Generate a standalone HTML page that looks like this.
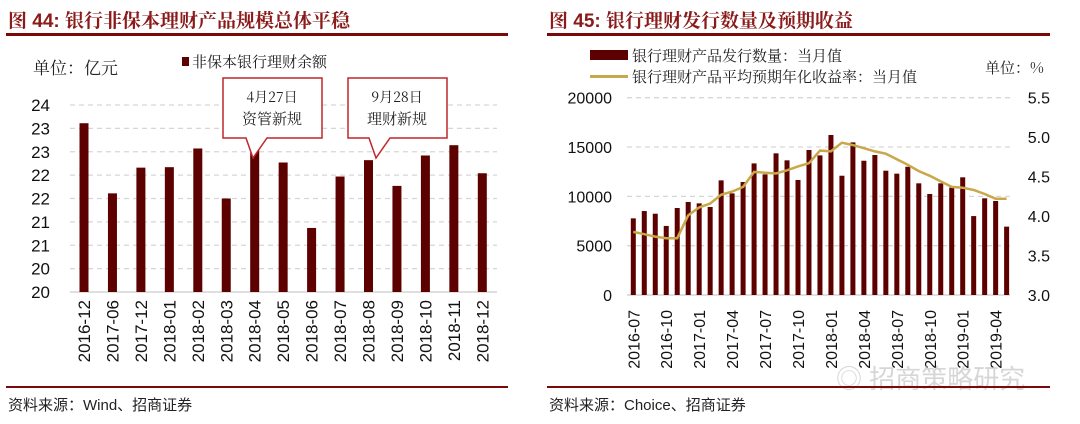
<!DOCTYPE html>
<html><head><meta charset="utf-8">
<style>
body{margin:0;background:#fff;width:1080px;height:424px;overflow:hidden;font-family:"Liberation Sans","Noto Sans CJK SC",sans-serif;}
svg{display:block}
</style></head>
<body>
<svg width="1080" height="424" xmlns="http://www.w3.org/2000/svg">
<g>
<text x="8" y="27" font-size="19" fill="#8b1a1a" font-weight="bold" font-family="Liberation Sans,Noto Serif CJK SC,serif">图 <tspan font-family="Liberation Sans,sans-serif">44:</tspan> 银行非保本理财产品规模总体平稳</text>
<rect x="6" y="33" width="502" height="3" fill="#7a0a0a"/>
<text x="33" y="74" font-size="17" fill="#222" font-family="Noto Serif CJK SC,serif">单位：亿元</text>
<rect x="182" y="57" width="7" height="9" fill="#5c0000"/>
<text x="192" y="67" font-size="15" fill="#222" font-family="Noto Serif CJK SC,serif">非保本银行理财余额</text>
<g id="lg"></g>
<rect x="6" y="386" width="502" height="2" fill="#7a0a0a"/>
<text x="8" y="410" font-size="15" fill="#222">资料来源：Wind、招商证券</text>
</g>
<g>
<text x="549" y="27" font-size="19" fill="#8b1a1a" font-weight="bold" font-family="Liberation Sans,Noto Serif CJK SC,serif">图 <tspan font-family="Liberation Sans,sans-serif">45:</tspan> 银行理财发行数量及预期收益</text>
<rect x="547" y="33" width="503" height="3" fill="#7a0a0a"/>
<rect x="590" y="50" width="38" height="10" fill="#5c0000"/>
<text x="632" y="61" font-size="15" fill="#222" font-family="Noto Serif CJK SC,serif">银行理财产品发行数量：当月值</text>
<rect x="590" y="75" width="38" height="3" fill="#c9a84a"/>
<text x="632" y="82" font-size="15" fill="#222" font-family="Noto Serif CJK SC,serif">银行理财产品平均预期年化收益率：当月值</text>
<text x="985" y="73" font-size="15" fill="#222" font-family="Noto Serif CJK SC,serif">单位：%</text>
<g id="rg"></g>
<text x="836" y="388" font-size="26" fill="#bbb" opacity="0.6">◎ 招商策略研究</text>
<rect x="547" y="386" width="503" height="2" fill="#7a0a0a"/>
<text x="549" y="410" font-size="15" fill="#222">资料来源：Choice、招商证券</text>
</g>
</svg>
<script>
const leftCats=["2016-12","2017-06","2017-12","2018-01","2018-02","2018-03","2018-04","2018-05","2018-06","2018-07","2018-08","2018-09","2018-10","2018-11","2018-12"];
const leftVals=[23.61,22.11,22.66,22.67,23.07,22.0,23.3,22.77,21.37,22.47,22.82,22.27,22.92,23.14,22.54];
const leftTicks=[20,20.5,21,21.5,22,22.5,23,23.5,24];
const leftTickLabels=["20","20","21","21","22","22","23","23","24"];
const rightCats=["2016-07","2016-08","2016-09","2016-10","2016-11","2016-12","2017-01","2017-02","2017-03","2017-04","2017-05","2017-06","2017-07","2017-08","2017-09","2017-10","2017-11","2017-12","2018-01","2018-02","2018-03","2018-04","2018-05","2018-06","2018-07","2018-08","2018-09","2018-10","2018-11","2018-12","2019-01","2019-02","2019-03","2019-04","2019-05"];
const rightCounts=[7770,8510,8240,7000,8820,9430,9290,8920,11620,10300,11450,13340,12230,14360,13650,11660,14700,14150,16220,12090,15470,13610,14190,12600,12300,13000,11320,10240,11320,10880,11930,8000,9800,9530,6930];
const rightYield=[3.80,3.77,3.74,3.72,3.72,4.01,4.11,4.16,4.27,4.31,4.37,4.56,4.55,4.54,4.58,4.63,4.67,4.83,4.82,4.93,4.90,4.86,4.82,4.79,4.72,4.65,4.57,4.51,4.44,4.37,4.36,4.33,4.28,4.22,4.22];
const rightTicksL=[0,5000,10000,15000,20000];
const rightTicksR=["3.0","3.5","4.0","4.5","5.0","5.5"];
const NS="http://www.w3.org/2000/svg";
function mk(p,t,a,txt){const e=document.createElementNS(NS,t);for(const k in a)e.setAttribute(k,a[k]);if(txt!==undefined)e.textContent=txt;p.appendChild(e);return e;}
// left
const lg=document.getElementById('lg');
const ly=v=>292-(v-20)/4*187;
const lx=i=>84+i*28.45;
leftTicks.forEach((t,i)=>{
 const g=mk(lg,'line',{x1:70,x2:497,y1:ly(t),y2:ly(t),stroke:i==0?'#ccc':'#d6d6d6','stroke-width':1.3,'stroke-dasharray':i==0?'':'5,4'});
 
 
 const l=mk(lg,'text',{x:50,y:ly(t)+6,'text-anchor':'end','font-size':17,fill:'#111'},leftTickLabels[i]);
 
 
});
leftVals.forEach((v,i)=>{
 const b=mk(lg,'rect',{x:lx(i)-4.5,y:ly(v),width:9,height:292-ly(v),fill:'#5c0000'});
 
 
 const t=mk(lg,'text',{transform:`translate(${lx(i)+6},300) rotate(-90)`,'text-anchor':'end','font-size':17,fill:'#111'},leftCats[i]);
 
 
});
function callout(x0,tipx,l1,l2,name){
 const p=mk(lg,'path',{d:`M${x0} 78 H${x0+99} V138 H${tipx+14} L${tipx} 158 L${tipx-7} 138 H${x0} Z`,fill:'#fff',stroke:'#c0262c','stroke-width':1.5});
 
 
 const a=mk(lg,'text',{x:x0+49,y:102,'text-anchor':'middle','font-size':14,fill:'#222','font-family':'Noto Serif CJK SC,serif'},l1);
 
 
 const b=mk(lg,'text',{x:x0+49,y:124,'text-anchor':'middle','font-size':15,fill:'#222','font-family':'Noto Serif CJK SC,serif'},l2);
 
 
}
callout(223,253,'4月27日','资管新规','callout-asset-rule');
callout(348,376,'9月28日','理财新规','callout-wealth-rule');
// right
const rg=document.getElementById('rg');
const ry=v=>295-v/20000*197.3;
const ry2=v=>295-(v-3)/2.5*197.3;
const rx=i=>633.3+i*10.98;
rightTicksL.forEach((t,i)=>{
 const g=mk(rg,'line',{x1:627,x2:1010,y1:ry(t),y2:ry(t),stroke:i==0?'#ccc':'#d6d6d6','stroke-width':1.3,'stroke-dasharray':i==0?'':'5,4'});
 
 
 const l=mk(rg,'text',{x:612,y:ry(t)+6,'text-anchor':'end','font-size':16,fill:'#111'},String(t));
 
 
});
rightTicksR.forEach((t,i)=>{
 const l=mk(rg,'text',{x:1050,y:ry2(parseFloat(t))+6,'text-anchor':'end','font-size':16,fill:'#111'},t);
 
 
});
rightCounts.forEach((v,i)=>{
 const b=mk(rg,'rect',{x:rx(i)-2.5,y:ry(v),width:5,height:295-ry(v),fill:'#5c0000'});
 
 
 if(i%3==0){
 const t=mk(rg,'text',{transform:`translate(${rx(i)+6},310) rotate(-90)`,'text-anchor':'end','font-size':16,fill:'#111'},rightCats[i]);
 
 
 }
});
const pts=rightYield.map((v,i)=>rx(i).toFixed(1)+','+ry2(v).toFixed(1)).join(' ');
const pl=mk(rg,'polyline',{points:pts,fill:'none',stroke:'#c9a84a','stroke-width':2.5});


</script>
</body></html>
